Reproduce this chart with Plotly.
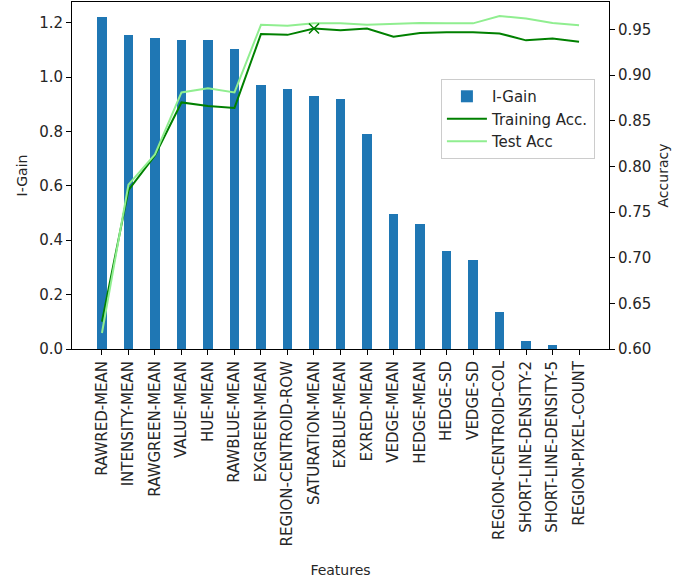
import plotly.graph_objects as go

features = [
    "RAWRED-MEAN", "INTENSITY-MEAN", "RAWGREEN-MEAN", "VALUE-MEAN", "HUE-MEAN",
    "RAWBLUE-MEAN", "EXGREEN-MEAN", "REGION-CENTROID-ROW", "SATURATION-MEAN",
    "EXBLUE-MEAN", "EXRED-MEAN", "VEDGE-MEAN", "HEDGE-MEAN", "HEDGE-SD", "VEDGE-SD",
    "REGION-CENTROID-COL", "SHORT-LINE-DENSITY-2", "SHORT-LINE-DENSITY-5",
    "REGION-PIXEL-COUNT",
]

i_gain = [1.220, 1.156, 1.142, 1.137, 1.137, 1.102, 0.972, 0.955, 0.932, 0.920,
          0.790, 0.496, 0.460, 0.360, 0.326, 0.136, 0.031, 0.013, 0.0]
train_acc = [0.630, 0.774, 0.812, 0.870, 0.866, 0.864, 0.945, 0.944, 0.951, 0.949,
             0.951, 0.942, 0.946, 0.947, 0.947, 0.9456, 0.938, 0.940, 0.9365]
test_acc = [0.6175, 0.780, 0.813, 0.881, 0.8855, 0.881, 0.955, 0.954, 0.9566, 0.9566,
            0.955, 0.956, 0.957, 0.9566, 0.9566, 0.9646, 0.962, 0.957, 0.9545]
best_idx = 8

FONT = "DejaVu Sans"
TXT = "#262626"
FS = 15

fig = go.Figure()
fig.add_trace(go.Bar(
    x=features, y=i_gain, name="I-Gain", marker_color="#1f77b4",
    marker_line_width=0, width=0.35,
))
fig.add_trace(go.Scatter(
    x=features, y=train_acc, name="Training Acc.", mode="lines",
    line={"color": "green", "width": 2}, yaxis="y2",
))
fig.add_trace(go.Scatter(
    x=features, y=test_acc, name="Test Acc", mode="lines",
    line={"color": "lightgreen", "width": 2}, yaxis="y2",
))
fig.add_trace(go.Scatter(
    x=[features[best_idx]], y=[train_acc[best_idx]], mode="markers",
    marker={"symbol": "x-thin", "size": 10, "line": {"color": "green", "width": 1.5}},
    yaxis="y2", showlegend=False,
))

axis_common = {
    "showline": True, "linecolor": "black", "linewidth": 1,
    "ticks": "outside", "ticklen": 5, "tickcolor": "black",
    "showgrid": False, "zeroline": False, "automargin": False,
    "tickfont": {"family": FONT, "size": FS, "color": TXT},
}
title_font = {"family": FONT, "size": 14, "color": TXT}

fig.update_layout(
    width=675, height=584,
    margin={"l": 72, "r": 66, "t": 2, "b": 235},
    paper_bgcolor="white", plot_bgcolor="white",
    font={"family": FONT, "size": FS, "color": TXT},
    bargap=0,
    xaxis={
        **axis_common, "mirror": True, "tickangle": -90,
        "range": [-1.13, 19.13],
        "title": {"text": "Features", "font": title_font, "standoff": 19},
    },
    yaxis={
        **axis_common, "mirror": True, "range": [0, 1.276],
        "tickvals": [0, 0.2, 0.4, 0.6, 0.8, 1.0, 1.2], "tickformat": ".1f",
        "title": {"text": "I-Gain", "font": title_font, "standoff": 8},
    },
    yaxis2={
        **axis_common, "overlaying": "y", "side": "right", "range": [0.60, 0.98],
        "tickvals": [0.60, 0.65, 0.70, 0.75, 0.80, 0.85, 0.90, 0.95], "tickformat": ".2f",
        "title": {"text": "Accuracy", "font": title_font, "standoff": 7},
    },
    legend={
        "x": 0.687, "y": 0.778, "xanchor": "left", "yanchor": "top",
        "bgcolor": "rgba(255,255,255,0.8)", "bordercolor": "#cccccc", "borderwidth": 1,
        "font": {"family": FONT, "size": FS, "color": TXT},
        "itemwidth": 40,
    },
    showlegend=True,
)

fig.write_html(
    "out.html",
    config={"displayModeBar": False},
    post_script="document.body.style.margin = '0';",
)
